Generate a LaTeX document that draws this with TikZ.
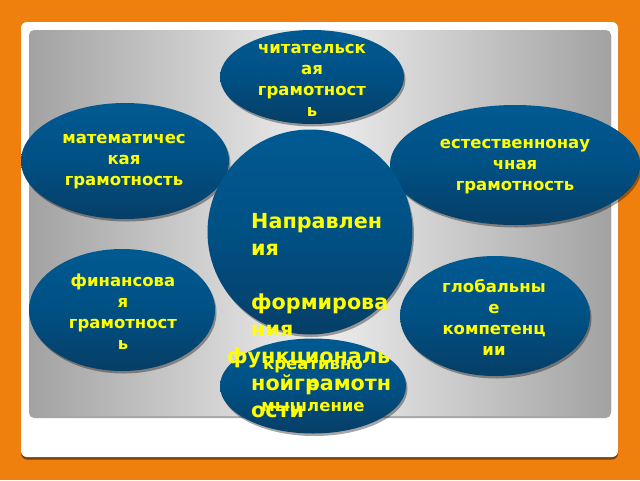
\documentclass[tikz,border=0pt]{standalone}
\usepackage{fontspec}
\setmainfont{DejaVu Sans}
\usetikzlibrary{shapes.geometric,shadows}
\definecolor{orangebg}{RGB}{240,128,14}
\definecolor{bluetop}{RGB}{0,90,146}
\definecolor{bluemid}{RGB}{0,80,132}
\definecolor{bluebot}{RGB}{6,62,102}
\definecolor{txtyellow}{RGB}{255,255,0}
\definecolor{grayedge}{RGB}{162,162,162}
\definecolor{graymid}{RGB}{238,238,238}
\begin{document}
\begin{tikzpicture}[x=1pt,y=-1pt,
  bubble/.style={ellipse, inner sep=0pt, draw=none,
    top color=bluetop, bottom color=bluebot, middle color=bluemid,
    drop shadow={shadow xshift=1.5pt, shadow yshift=-2.5pt, fill=black, opacity=0.35}},
  bubtext/.style={text=txtyellow, font=\bfseries\fontsize{16.5}{21}\selectfont,
    align=center, inner sep=0pt},
  bigtext/.style={text=txtyellow, font=\bfseries\fontsize{20.7}{27}\selectfont,
    align=left, inner sep=0pt}]
\useasboundingbox (0,0) rectangle (640,480);
\fill[orangebg] (0,0) rectangle (640,480);
\fill[white, rounded corners=6pt, drop shadow={shadow xshift=0pt, shadow yshift=-2.5pt, fill=black!60!orangebg, opacity=0.8}] (21,22) rectangle (618,457);
\fill[gray!70, rounded corners=5pt] (29,31) rectangle (611,418);
\shade[left color=grayedge, right color=grayedge, middle color=graymid, rounded corners=5pt] (29,30) rectangle (611,416);

\node[bubble, minimum width=184pt, minimum height=94pt] (read) at (312,77) {};
\node[bubble, minimum width=208pt, minimum height=116pt] (math) at (125,161) {};
\node[bubble, minimum width=250pt, minimum height=120pt] (nat) at (515,165) {};
\node[bubble, minimum width=186pt, minimum height=122pt] (fin) at (122,310) {};
\node[bubble, minimum width=190pt, minimum height=120pt] (glob) at (495,316) {};
\node[bubble, minimum width=205pt, minimum height=205pt] (core) at (310,232) {};
\node[bubble, minimum width=186pt, minimum height=95pt] (creat) at (313,386) {};

\node[bubtext] (readt) at (312,80) {читательск\\ая\\грамотност\\ь};
\node[bubtext] (matht) at (124,162) {математичес\\кая\\грамотность};
\node[bubtext] (natt) at (515,167) {естественнонау\\чная\\грамотность};
\node[bubtext] (fint) at (123,312) {финансова\\я\\грамотност\\ь};
\node[bubtext] (globt) at (494,317) {глобальны\\е\\компетенц\\ии};
\node[bubtext] (creatt) at (313,386) {креативно\\е\\мышление};
\node[bigtext, anchor=north west] (coret) at (251,213.5)
  {Направлен\\ия\\[27pt]формирова\\ния\\\hspace*{-24pt}функциональ\\нойграмотн\\ости};
\end{tikzpicture}
\end{document}
